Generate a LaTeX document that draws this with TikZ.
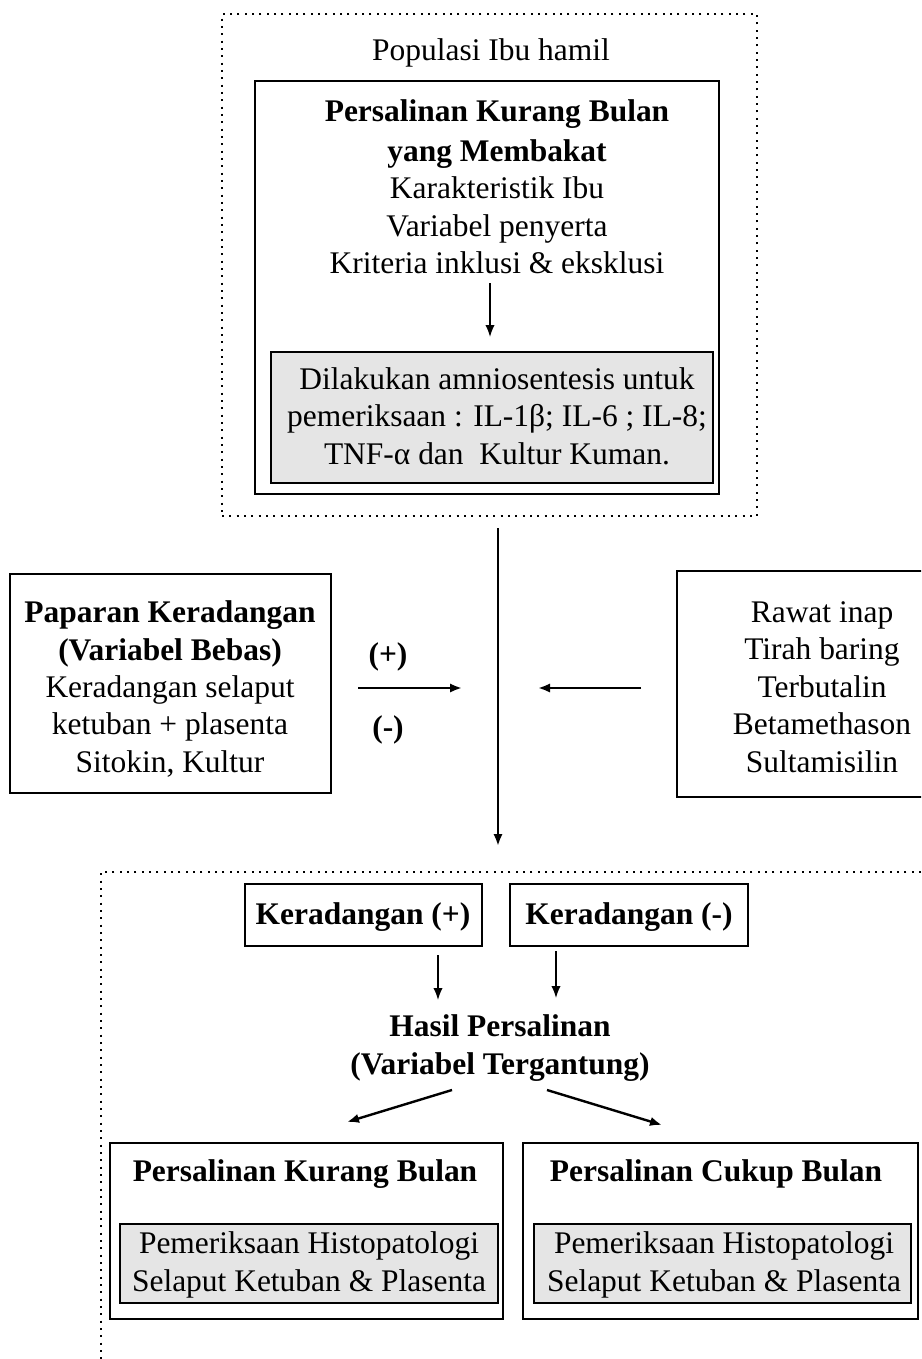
\documentclass[tikz,border=0pt]{standalone}
\usepackage{fontspec}
\setmainfont{Liberation Serif}
\usetikzlibrary{fit,arrows.meta}
\begin{document}
\begin{tikzpicture}[x=0.75pt,y=-0.75pt,
  dotbox/.style={draw,line width=1.5pt,dash pattern=on 1.5pt off 4pt,inner sep=0pt},
  thickbox/.style={draw,line width=2.2pt,inner sep=0pt},
  thinbox/.style={draw,line width=0.9pt,inner sep=0pt},
  medbox/.style={draw,line width=1.7pt,inner sep=0pt},
  graybox/.style={draw,line width=1pt,fill=black!10,inner sep=0pt},
  graybox2/.style={draw,line width=1.5pt,fill=black!10,inner sep=0pt},
  txt/.style={font=\fontsize{23.6}{28.1}\selectfont,align=center,inner sep=0pt},
  btxt/.style={font=\fontsize{23.6}{28.1}\selectfont\bfseries,align=center,inner sep=0pt},
  arr/.style={-{Latex[length=9pt,width=7pt]},line width=1.1pt},
  barr/.style={-{Latex[length=9pt,width=7pt]},line width=1.8pt}]
\useasboundingbox (0,0) rectangle (921,1359);
\clip (0,0) rectangle (921,1359);

% ---------- top block ----------
\node[dotbox,fit={(222,14)(757,516)}] (top) {};
\node[txt] (pop) at (491,53) {Populasi Ibu hamil};
\node[thickbox,fit={(255,81)(719,494)}] (pkb) {};
\node[txt] (pkbtxt) at (497,187) {\textbf{Persalinan Kurang Bulan}\\[1.5pt]\textbf{yang Membakat}\\Karakteristik Ibu\\Variabel penyerta\\Kriteria inklusi \& eksklusi};
\coordinate (a1s) at (490,283);
\coordinate (a1e) at (490,337);
\draw[arr] (a1s) -- (a1e);
\node[graybox,fit={(271,352)(713,483)}] (amnio) {};
\node[txt] (amniotxt) at (497,416) {Dilakukan amniosentesis untuk\\pemeriksaan : IL-1β; IL-6 ; IL-8;\\TNF-α dan~ Kultur Kuman.};

% ---------- middle ----------
\coordinate (v1) at (498,528);
\coordinate (v2) at (498,846);
\draw[barr] (v1) -- (v2);

\node[thinbox,fit={(10,574)(331,793)}] (pap) {};
\node[txt] (paptxt) at (170,689) {\textbf{Paparan Keradangan}\\\textbf{(Variabel Bebas)}\\Keradangan selaput\\ketuban + plasenta\\Sitokin, Kultur};

\node[btxt] (plus) at (388,657) {(+)};
\node[btxt] (minus) at (388,730) {(-)};
\coordinate (r1) at (358,688);
\coordinate (r2) at (462,688);
\draw[barr] (r1) -- (r2);

\node[thinbox,fit={(677,571)(935,797)}] (rawat) {};
\node[txt] (rawattxt) at (822,687) {Rawat inap\\Tirah baring\\Terbutalin\\Betamethason\\Sultamisilin};
\coordinate (l1) at (641,688);
\coordinate (l2) at (538,688);
\draw[barr] (l1) -- (l2);

% ---------- bottom block ----------
\node[dotbox,fit={(101,872)(945,1390)}] (bot) {};
\node[medbox,fit={(245,884)(482,946)}] (kp) {};
\node[btxt] (kptxt) at (363,917) {Keradangan (+)};
\node[medbox,fit={(510,884)(748,946)}] (km) {};
\node[btxt] (kmtxt) at (629,917) {Keradangan (-)};
\coordinate (kp1) at (438,955);
\coordinate (kp2) at (438,1000);
\draw[arr] (kp1) -- (kp2);
\coordinate (km1) at (556,951);
\coordinate (km2) at (556,998);
\draw[arr] (km1) -- (km2);

\node[btxt] (hasil) at (500,1048) {Hasil Persalinan\\(Variabel Tergantung)};
\coordinate (d1s) at (452,1090);
\coordinate (d1e) at (347,1122);
\draw[barr] (d1s) -- (d1e);
\coordinate (d2s) at (547,1090);
\coordinate (d2e) at (662,1125);
\draw[barr] (d2s) -- (d2e);

\node[medbox,fit={(110,1143)(503,1319)}] (pkb2) {};
\node[btxt] (pkb2t) at (305,1174) {Persalinan Kurang Bulan};
\node[graybox2,fit={(120,1224)(498,1303)}] (histo1) {};
\node[txt] (histo1t) at (309,1265) {Pemeriksaan Histopatologi\\Selaput Ketuban \& Plasenta};

\node[medbox,fit={(523,1143)(918,1319)}] (pcb) {};
\node[btxt] (pcbt) at (716,1174) {Persalinan Cukup Bulan};
\node[graybox2,fit={(534,1224)(911,1303)}] (histo2) {};
\node[txt] (histo2t) at (724,1265) {Pemeriksaan Histopatologi\\Selaput Ketuban \& Plasenta};
\end{tikzpicture}
\end{document}
